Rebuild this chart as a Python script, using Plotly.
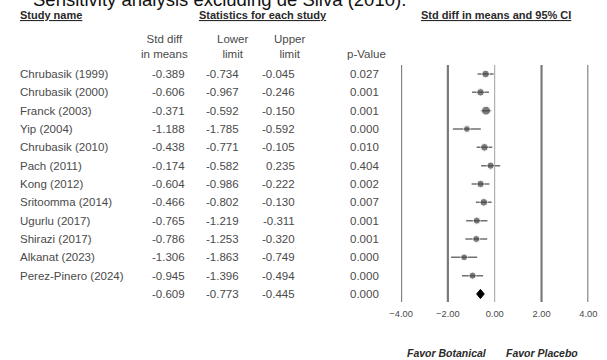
import plotly.graph_objects as go

# ---- data ----
studies = ["Chrubasik (1999)", "Chrubasik (2000)", "Franck (2003)", "Yip (2004)",
           "Chrubasik (2010)", "Pach (2011)", "Kong (2012)", "Sritoomma (2014)",
           "Ugurlu (2017)", "Shirazi (2017)", "Alkanat (2023)", "Perez-Pinero (2024)"]
std_diff = [-0.389, -0.606, -0.371, -1.188, -0.438, -0.174, -0.604, -0.466,
            -0.765, -0.786, -1.306, -0.945]
lower = [-0.734, -0.967, -0.592, -1.785, -0.771, -0.582, -0.986, -0.802,
         -1.219, -1.253, -1.863, -1.396]
upper = [-0.045, -0.246, -0.150, -0.592, -0.105, 0.235, -0.222, -0.130,
         -0.311, -0.320, -0.749, -0.494]
p_values = ["0.027", "0.001", "0.001", "0.000", "0.010", "0.404", "0.002", "0.007",
            "0.001", "0.001", "0.000", "0.000"]
summary_sd = -0.609
summary_lower = -0.773
summary_upper = -0.445
summary_p = "0.000"
tick_values = [-4, -2, 0, 2, 4]

W, H = 607, 360
FONT = "Liberation Sans, Arial, sans-serif"
rows = list(range(len(studies)))
summary_row = len(studies)

def px(x):
    return x / W

def py(y):
    return 1 - y / H

# y axis: row 0 at y=74, 18.33 px per row
ROW0, ROWH = 74.0, 18.33
y_top = -ROW0 / ROWH
y_bot = y_top + H / ROWH

def row_of(ywin):
    return (ywin - ROW0) / ROWH

fig = go.Figure()

# CI whiskers
for r, lo, hi in zip(rows, lower, upper):
    fig.add_trace(go.Scatter(x=[lo, hi], y=[r, r], mode="lines",
                             line=dict(color="#707070", width=1.5),
                             hoverinfo="skip", showlegend=False))

sizes = [5.5 + 1.5 / (hi - lo) for lo, hi in zip(lower, upper)]
fig.add_trace(go.Scatter(x=std_diff, y=rows, mode="markers",
                         marker=dict(symbol="circle", size=sizes, color="#444444"),
                         showlegend=False, cliponaxis=False, hoverinfo="skip"))

# summary diamond
fig.add_trace(go.Scatter(x=[summary_lower, summary_sd, summary_upper, summary_sd, summary_lower],
                         y=[summary_row, summary_row - 0.25, summary_row, summary_row + 0.25, summary_row],
                         mode="lines", fill="toself", fillcolor="#000000",
                         line=dict(color="#000000", width=1), showlegend=False, hoverinfo="skip"))

# vertical reference lines
for v in tick_values:
    fig.add_shape(type="line", xref="x", yref="y", x0=v, x1=v,
                  y0=row_of(65), y1=row_of(302),
                  line=dict(color="#a0a0a0" if v == 0 else "#7a7a7a",
                            width=1 if v == 0 else 2.2), layer="below")

ann = []
txt = dict(family=FONT, size=11.5, color="#4a4a4a")
bold = dict(family=FONT, size=11, color="#2a2a2a")

def A(text, x, y, xanchor="center", yref="paper", font=txt):
    ann.append(dict(text=text, x=px(x), y=(py(y) if yref == "paper" else y), xref="paper",
                    yref=yref, xanchor=xanchor, yanchor="middle", showarrow=False,
                    borderpad=0, font=font))

# title (clipped at top of window)
A("Sensitivity analysis excluding de Silva (2010).", 215, -1,
  font=dict(family=FONT, size=18.5, color="#111111"))

# headers
A("<b><u>Study name</u></b>", 7, 15, xanchor="left", font=bold)
A("<b><u>Statistics for each study</u></b>", 260, 15, font=bold)
A("<b><u>Std diff in means and 95% CI</u></b>", 501, 15, font=bold)
for t, cx in [("Std diff<br>in means", 158), ("Lower<br>limit", 228), ("Upper<br>limit", 287)]:
    A(t, cx, 47)
A("p-Value", 367, 54)

# rows
all_names = studies + [""]
all_sd = std_diff + [summary_sd]
all_lo = lower + [summary_lower]
all_hi = upper + [summary_upper]
all_p = p_values + [summary_p]
for r in range(len(all_names)):
    if all_names[r]:
        A(all_names[r], 7, r, xanchor="left", yref="y")
    for val, right in [("%.3f" % all_sd[r], 180), ("%.3f" % all_lo[r], 236),
                       ("%.3f" % all_hi[r], 294), (all_p[r], 381)]:
        A(val, right, r, xanchor="right", yref="y")

# favor labels
fav = dict(family=FONT, size=10.5, color="#2a2a2a")
A("<b><i>Favor Botanical</i></b>", 451, 353, font=fav)
A("<b><i>Favor Placebo</i></b>", 549, 353, font=fav)

fig.update_layout(
    width=W, height=H, margin=dict(l=0, r=0, t=0, b=0),
    paper_bgcolor="white", plot_bgcolor="white",
    annotations=ann, hovermode=False,
    xaxis=dict(domain=[px(403), px(597)], range=[-4, 4], anchor="free", position=py(307),
               tickvals=tick_values, tickformat=".2f", showgrid=False, zeroline=False,
               showline=False, ticks="", ticklabeloverflow="allow",
               tickfont=dict(family=FONT, size=9.3, color="#4a4a4a")),
    yaxis=dict(domain=[0, 1], range=[y_bot, y_top], visible=False),
)

fig.write_html("out.html", config={"displayModeBar": False},
               post_script="document.body.style.margin='0px';document.body.style.overflow='hidden';")
